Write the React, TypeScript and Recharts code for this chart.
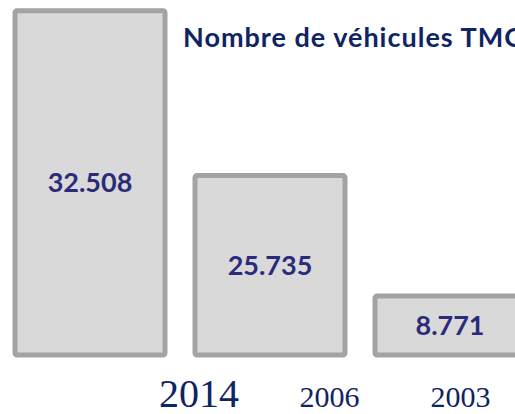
import { BarChart, Bar, XAxis, YAxis, LabelList } from 'recharts'

// years shown under the bars
const years = ['2014', '2006', '2003']
// number of vehicles printed inside each bar
const vehicles = [32508, 25735, 8771]
// drawn bar height in the original graphic (% of the tallest bar), not proportional to the counts
const barLevel = [100, 52.1, 17.1]

const data = years.map((y, i) => ({ year: y, vehicles: vehicles[i], level: barLevel[i] }))

const fmt = (v: number) => String(v).replace(/\B(?=(\d{3})+(?!\d))/g, '.')

// the year labels sit to the right of their bars in the original
const tickShift = [109, 59.5, 10.5]
const tickSize = [40, 30, 30]

const YearTick = ({ x, payload, index }: any) => (
  <text
    x={x + tickShift[index]}
    y={407}
    textAnchor="middle"
    fill="#0f2463"
    fontFamily="'Liberation Serif', serif"
    fontSize={tickSize[index]}
  >
    {payload.value}
  </text>
)

export default function App() {
  return (
    <div style={{ position: 'fixed', left: 0, top: 0, width: 515, height: 414, overflow: 'hidden', background: '#fff' }}>
      <BarChart width={540} height={414} data={data} margin={{ top: 10.7, right: 0, left: 0, bottom: 0 }} barCategoryGap={30}>
        <XAxis dataKey="year" axisLine={false} tickLine={false} height={59} tick={<YearTick />} interval={0} />
        <YAxis hide domain={[0, 100]} />
        <Bar dataKey="level" fill="#d9d9d9" stroke="#a3a3a3" strokeWidth={5} radius={2} barSize={150} isAnimationActive={false}>
          <LabelList
            dataKey="vehicles"
            position="center"
            formatter={(v: any) => fmt(Number(v))}
            fill="#2b2b7a"
            fontFamily="Lato, sans-serif"
            fontWeight={700}
            fontSize={27}
          />
        </Bar>
      </BarChart>
      <div
        style={{
          position: 'absolute',
          left: 183,
          top: 19,
          whiteSpace: 'nowrap',
          fontFamily: 'Lato, sans-serif',
          fontWeight: 700,
          fontSize: 27,
          letterSpacing: 1,
          lineHeight: '35px',
          color: '#0f2463',
        }}
      >
        Nombre de véhicules TMC
      </div>
    </div>
  )
}
